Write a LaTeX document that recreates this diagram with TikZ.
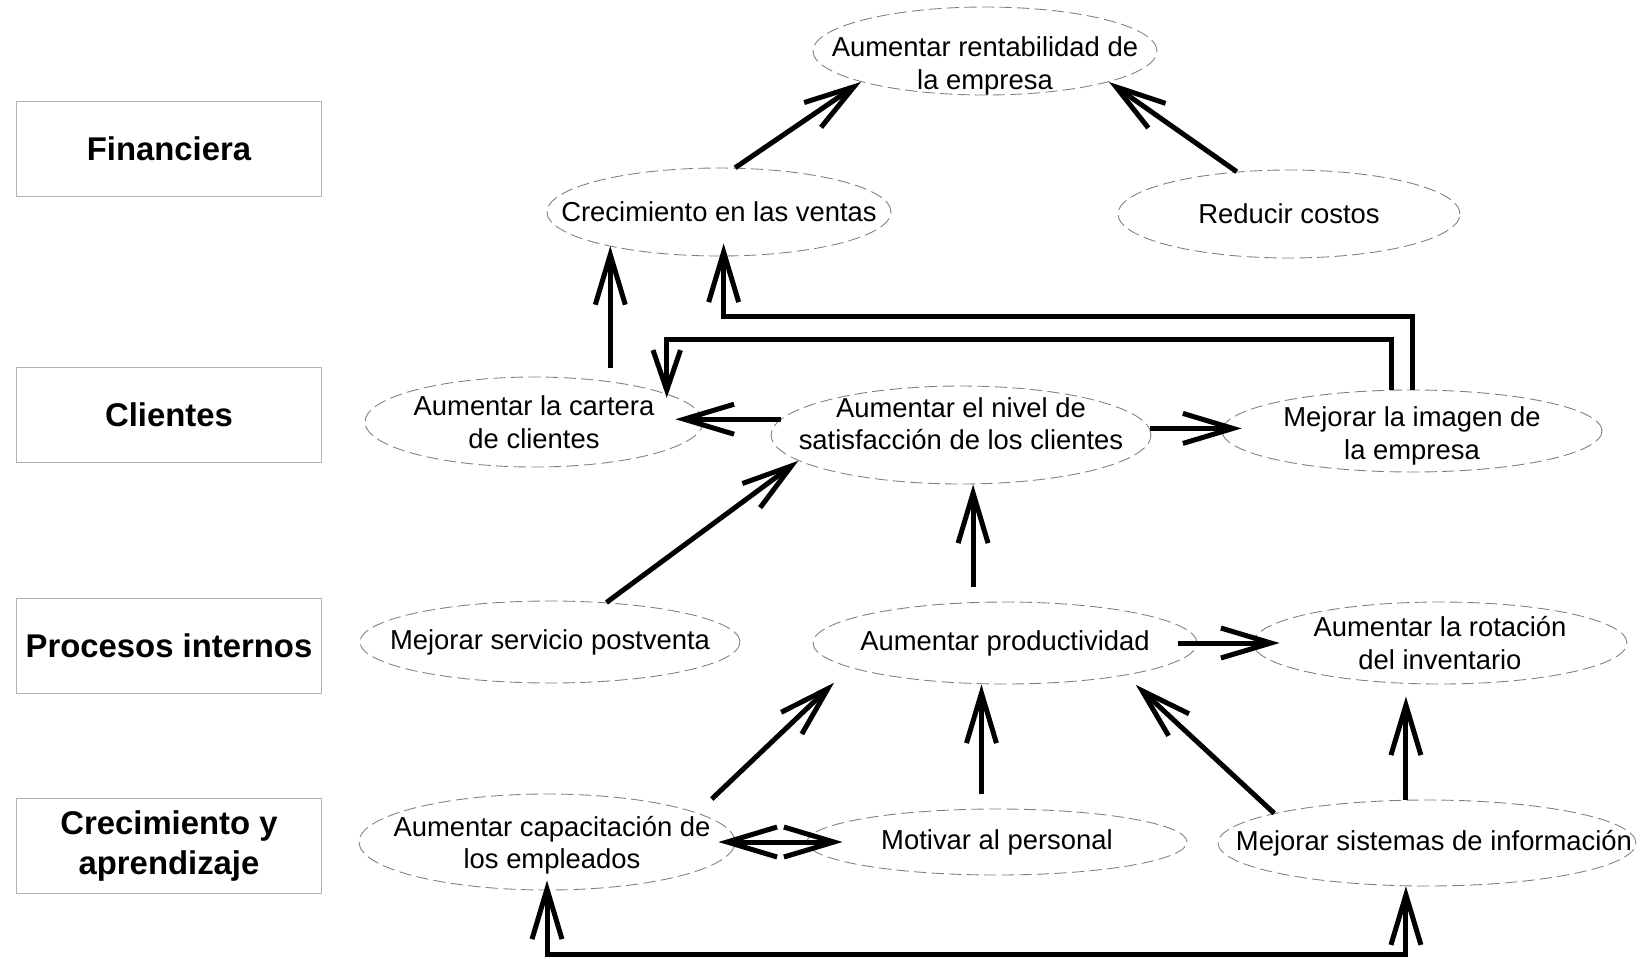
\documentclass[tikz,border=0pt]{standalone}
\usepackage{fontspec}
\setmainfont{Liberation Sans}
\usetikzlibrary{arrows.meta,shapes.geometric}

\begin{document}
\begin{tikzpicture}[
  x=0.02cm, y=-0.02cm,
  font=\fontsize{15.6}{18.5}\selectfont,
  >={Straight Barb[length=1cm,width=0.6cm]},
  persp/.style={rectangle,draw=black!30,line width=0.5pt,inner sep=2pt,
                minimum width=6.1cm,minimum height=1.9cm,align=center,
                font=\fontsize{18.7}{22.5}\selectfont\bfseries},
  goal/.style={ellipse,draw=black!50,line width=0.5pt,dash pattern=on 7pt off 3pt,inner sep=0pt},
  txt/.style={align=center},
  link/.style={->,line width=0.1cm},
]
\useasboundingbox (0,0) rectangle (1644,958);

%============================================================ PERSPECTIVES ===
\node[persp] (pfin)  at (169,149) {Financiera};
\node[persp] (pcli)  at (169,415) {Clientes};
\node[persp] (pproc) at (169,646) {Procesos internos};
\node[persp] (pcrec) at (169,846) {Crecimiento y\\aprendizaje};

%=================================================================== GOALS ===
\node[goal,minimum width=6.88cm,minimum height=1.76cm,
      label={[txt,yshift=-0.3cm]center:{Aumentar rentabilidad de\\la empresa}}] (rent) at (985,51) {};
\node[goal,minimum width=6.88cm,minimum height=1.76cm,
      label={[txt]center:{Crecimiento en las ventas}}] (ventas) at (719,212) {};
\node[goal,minimum width=6.84cm,minimum height=1.76cm,
      label={[txt]center:{Reducir costos}}] (reduc) at (1289,214) {};

\node[goal,minimum width=6.76cm,minimum height=1.8cm,
      label={[txt]center:{Aumentar la cartera\\de clientes}}] (cart) at (534,422) {};
\node[goal,minimum width=7.6cm,minimum height=1.96cm,
      label={[txt,yshift=0.23cm]center:{Aumentar el nivel de\\satisfacción de los clientes}}] (satis) at (961,435) {};
\node[goal,minimum width=7.6cm,minimum height=1.64cm,
      label={[txt,yshift=-0.1cm]center:{Mejorar la imagen de\\la empresa}}] (imag) at (1412,431) {};

\node[goal,minimum width=7.6cm,minimum height=1.64cm,
      label={[txt]center:{Mejorar servicio postventa}}] (post) at (550,642) {};
\node[goal,minimum width=7.68cm,minimum height=1.64cm,
      label={[txt]center:{Aumentar productividad}}] (prod) at (1005,643) {};
\node[goal,minimum width=7.48cm,minimum height=1.64cm,
      label={[txt]center:{Aumentar la rotación\\del inventario}}] (rota) at (1440,643) {};

\node[goal,minimum width=7.52cm,minimum height=1.92cm,
      label={[txt,yshift=-0.06cm,xshift=0.1cm]center:{Aumentar capacitación de\\los empleados}}] (capa) at (547,842) {};
\node[goal,minimum width=7.6cm,minimum height=1.32cm,
      label={[txt]center:{Motivar al personal}}] (moti) at (997,842) {};
\node[goal,minimum width=8.36cm,minimum height=1.72cm,
      label={[txt,xshift=0.14cm]center:{Mejorar sistemas de información}}] (sist) at (1427,843) {};

%=================================================================== LINKS ===
% financiera
\draw[link] (ventas.70) -- (rent.194);
\draw[link] (reduc.141) -- (rent.346);

% clientes
\draw[link,shorten <=0.27cm] (cart.28) -- (cart.28 |- ventas.197);
\draw[link,shorten >=-0.26cm] (imag.north) -- ++(0,-73) -| (ventas.276);
\draw[link,-{Straight Barb[length=0.8cm,width=0.55cm]},shorten >=-0.08cm]
  (imag.116) -- ++(0,-50) -| (cart.12);
\draw[link,shorten >=-0.56cm] (satis.175) -- (satis.175 -| cart.east);
\draw[link,shorten >=-0.4cm] (satis.2) -- (satis.2 -| imag.west);

% procesos internos
\draw[link] (post.35) -- (satis.189);
\draw[link,shorten <=0.3cm] (prod.128) -- (prod.128 |- satis.south);
\draw[link,shorten <=-0.38cm,shorten >=-0.54cm] (prod.east) -- (rota.west);

% crecimiento y aprendizaje
\draw[link,shorten <=0.4cm,shorten >=0.44cm] (capa.11) -- (prod.189);
\draw[link,shorten <=0.3cm] (moti.115) -- (moti.115 |- prod.south);
\draw[link,shorten >=0.28cm] (sist.169) -- (prod.345);
\draw[link,shorten >=0.24cm] (sist.116) -- (sist.116 |- rota.south);
\draw[link,<->,shorten <=-0.34cm,shorten >=-0.72cm] (capa.east) -- (capa.east -| moti.west);
\draw[link,<->,shorten <=-0.2cm] (capa.south) -- ++(0,64) -| (sist.244);

\end{tikzpicture}
\end{document}
